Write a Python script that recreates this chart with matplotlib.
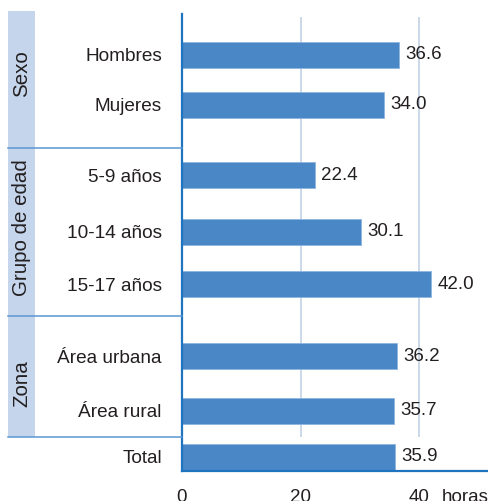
import numpy as np
import matplotlib
matplotlib.use("Agg")
import matplotlib.pyplot as plt
from matplotlib.patches import Rectangle
from matplotlib.transforms import blended_transform_factory

plt.rcParams['font.family'] = ['Liberation Sans', 'DejaVu Sans']

# Horas semanales por categoría
categorias = ["Hombres", "Mujeres", "5-9 años", "10-14 años", "15-17 años",
              "Área urbana", "Área rural", "Total"]
horas = [36.6, 34.0, 22.4, 30.1, 42.0, 36.2, 35.7, 35.9]
grupos = ["Sexo", "Grupo de edad", "Zona"]
filas_por_grupo = [2, 3, 2]
ticks_x = [0, 20, 40]
unidad = "horas"

# Espaciado vertical entre filas (en unidades de fila)
pasos = [0.94, 1.33, 1.07, 0.99, 1.36, 1.02, 0.87]
y = np.concatenate([[0.77], 0.77 + np.cumsum(pasos)])
separadores = [2.53, 5.70, 7.98]
bandas = [(-0.057, 2.53), (2.53, 5.70), (5.70, 7.98)]
centros_etiqueta = [1.13, 4.02, 6.97]

W, H = 489, 501
fig = plt.figure(figsize=(W / 100, H / 100), dpi=100)
ax = fig.add_axes([182 / W, 1 - 471 / H, (487 - 182) / W, (471 - 14) / H])

texto = "#231f20"
azul_barra = "#4a87c6"
azul_eje = "#1f74bf"
azul_sep = "#5a97d2"
azul_banda = "#c5d5ec"
gris_rejilla = "#cbd8eb"

ax.set_xlim(0, 51.4)
ax.set_ylim(8.62, 0)

# Líneas de referencia verticales
ax.vlines([20, 40], 0.06, separadores[-1], colors=gris_rejilla, lw=1.4, zorder=0)

ax.barh(y, horas, height=0.49, color=azul_barra, edgecolor="#8fb6de",
        linewidth=0.6, zorder=2)

for yi, v in zip(y, horas):
    ax.annotate(f"{v:.1f}", xy=(v, yi), xytext=(4.5, 0), textcoords="offset points",
                va="center", ha="left", fontsize=13.5, color=texto)

ax.set_yticks(y)
ax.set_yticklabels(categorias, fontsize=13.7, color=texto)
ax.tick_params(axis="y", length=0, pad=14.5)

ax.set_xticks(ticks_x)
ax.set_xticklabels([str(t) for t in ticks_x], fontsize=13.5, color=texto)
ax.tick_params(axis="x", length=0, pad=13)
ax.annotate(unidad, xy=(43.7, 0), xycoords=("data", "axes fraction"),
            xytext=(0, -13), textcoords="offset points",
            ha="left", va="top", fontsize=13.5, color=texto)

for lado in ["top", "right"]:
    ax.spines[lado].set_visible(False)
for lado in ["left", "bottom"]:
    ax.spines[lado].set_color(azul_eje)
    ax.spines[lado].set_linewidth(1.6)

# Bandas de grupo y separadores a la izquierda del eje
tr = blended_transform_factory(fig.transFigure, ax.transData)
for (y0, y1), nombre, yc in zip(bandas, grupos, centros_etiqueta):
    fig.patches.append(Rectangle((8 / W, y0), 27 / W, y1 - y0, transform=tr,
                                 facecolor=azul_banda, edgecolor="none", zorder=0))
    fig.text(21.5 / W, yc, nombre, transform=tr, rotation=90, ha="center",
             va="center", fontsize=14.8, color=texto)
for s in separadores:
    fig.add_artist(plt.Line2D([8 / W, 182 / W], [s, s], transform=tr,
                              color=azul_sep, lw=1.1))

fig.savefig("out.png", dpi=100)
